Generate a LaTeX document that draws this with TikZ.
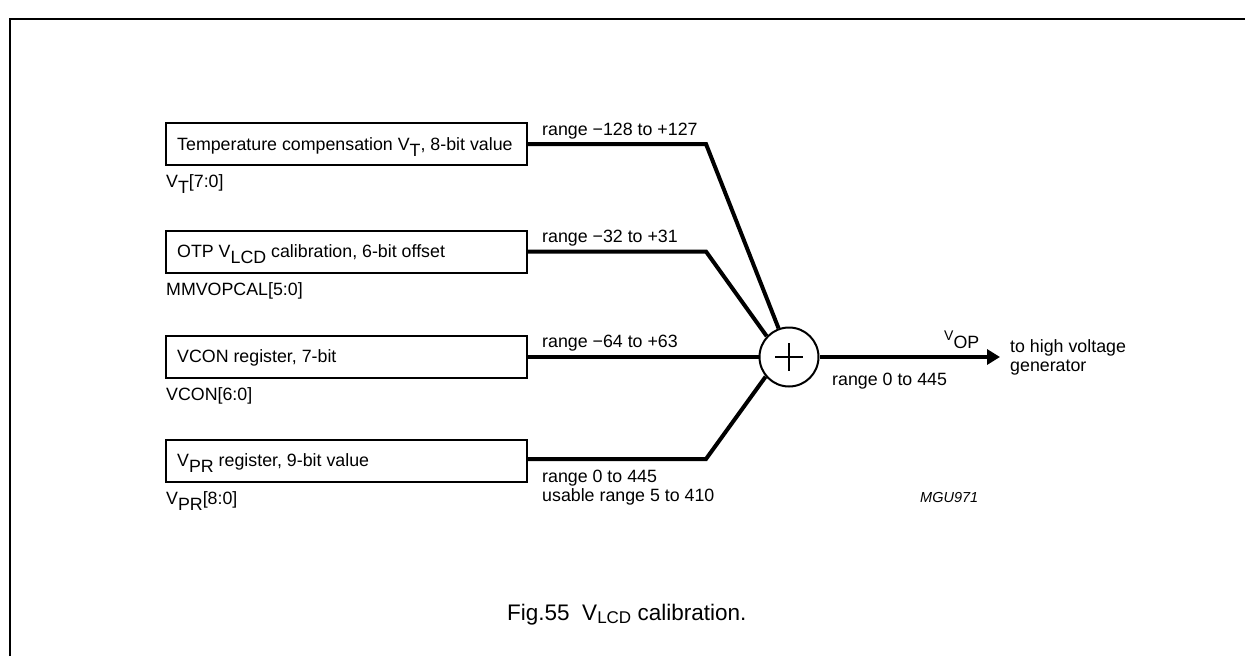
\documentclass[tikz,border=0pt]{standalone}
\usepackage{fontspec}
\setmainfont{Liberation Sans}
\usetikzlibrary{arrows.meta,calc}
\newcommand\lowsub[1]{\raisebox{-6.5pt}{#1}}
\begin{document}
\begin{tikzpicture}[x=1pt,y=-1pt,
  box/.style={draw,line width=2pt,minimum width=361pt,minimum height=42pt,inner sep=0pt},
  wire/.style={line width=4pt},
  txt/.style={anchor=base west,inner sep=0pt,font=\fontsize{17.8}{20}\selectfont},
  twoline/.style={anchor=base west,inner sep=0pt,font=\fontsize{17.8}{19.5}\selectfont}]
\useasboundingbox (0,0) rectangle (1245,656);
\draw[line width=2pt] (10,656) -- (10,19) -- (1245,19);
% boxes
\node[box] (b1) at (346.5,144) {};
\node[box] (b2) at (346.5,251.5) {};
\node[box] (b3) at (346.5,357) {};
\node[box] (b4) at (346.5,461) {};
\node[txt] (t1) at (177,150) {Temperature compensation V\lowsub{T}, 8-bit value};
\node[txt] (t2) at (177,257) {OTP V\lowsub{LCD} calibration, 6-bit offset};
\node[txt] (t3) at (177,362) {VCON register, 7-bit};
\node[txt] (t4) at (177,466) {V\lowsub{PR} register, 9-bit value};
\node[txt] (l1) at (166,187) {V\lowsub{T}[7:0]};
\node[txt] (l2) at (166,295) {MMVOPCAL[5:0]};
\node[txt] (l3) at (166,400) {VCON[6:0]};
\node[txt] (l4) at (166,504) {V\lowsub{PR}[8:0]};
% summing junction
\node[circle,draw,line width=2pt,minimum size=59pt,inner sep=0pt] (sum) at (789,357) {};
\draw[line width=2pt] ($(sum)+(-14,0)$) -- ($(sum)+(14,0)$);
\draw[line width=2pt] ($(sum)+(0,-14)$) -- ($(sum)+(0,14)$);
% wires
\path (b1.east) ++(178,0) coordinate (k1);
\path (b2.east) ++(178,0) coordinate (k2);
\path (b4.east) ++(178,-2) coordinate (k4);
\draw[wire] (b1.east) -- (k1) -- (sum.110);
\draw[wire] (b2.east) -- (k2) -- (sum.137);
\draw[wire] (b3.east) -- (sum.west);
\draw[wire] (b4.east |- k4) -- (k4) -- (sum.220);
\coordinate (out) at (1000,357);
\draw[wire,-{Triangle[length=13pt,width=15pt]}] (sum.east) -- (out);
% range labels
\node[txt] (r1) at (542,135) {range −128 to +127};
\node[txt] (r2) at (542,242) {range −32 to +31};
\node[txt] (r3) at (542,347) {range −64 to +63};
\node[twoline] (r4) at (542,482) {\begin{tabular}[t]{@{}l@{}}range 0 to 445\\usable range 5 to 410\end{tabular}};
\node[txt] (ro) at (832,385) {range 0 to 445};
\node[anchor=base west,inner sep=0pt] (vop) at (944,340) {\fontsize{14}{14}\selectfont V\raisebox{-8pt}{\fontsize{17.8}{20}\selectfont OP}};
\node[twoline] (dest) at (1010,352) {\begin{tabular}[t]{@{}l@{}}to high voltage\\generator\end{tabular}};
\node[anchor=base west,inner sep=0pt,font=\fontsize{14.5}{16}\selectfont\itshape] (code) at (920,502) {MGU971};
\node[anchor=base west,inner sep=0pt,font=\fontsize{22.5}{26}\selectfont] (cap) at (507,620) {Fig.55\ \ V\raisebox{-3.5pt}{\fontsize{17}{17}\selectfont LCD} calibration.};
\end{tikzpicture}
\end{document}
